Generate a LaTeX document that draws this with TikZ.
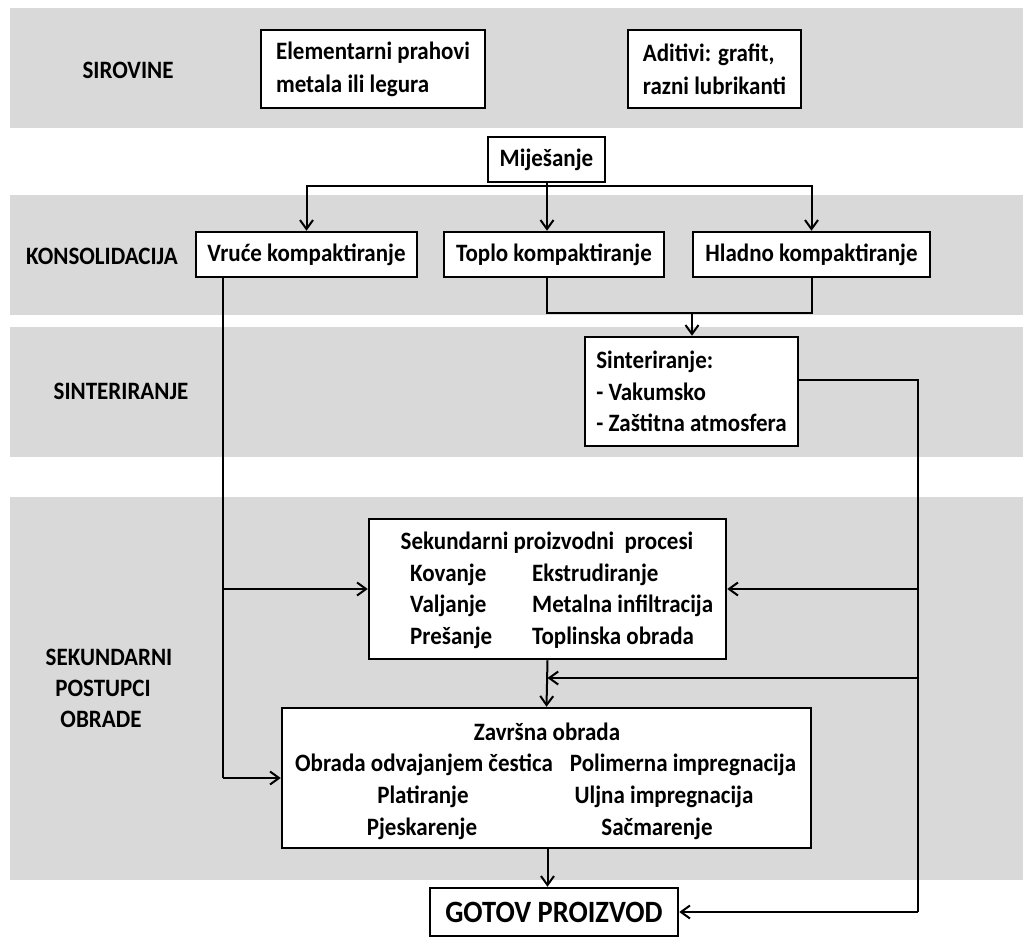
\documentclass[tikz,border=0pt]{standalone}
\usepackage{fontspec}
\setmainfont{Carlito}[FakeStretch=0.92]
\usetikzlibrary{arrows.meta}
\definecolor{band}{HTML}{D9D9D9}
\begin{document}
\begin{tikzpicture}[x=1pt,y=-1pt,
  every node/.style={font=\fontsize{25}{31.5}\selectfont\bfseries, inner sep=0pt},
  box/.style={draw, line width=2.5pt, fill=white, align=center},
  txt/.style={anchor=base},
  txtl/.style={anchor=base west},
  con/.style={line width=2pt},
  arr/.style={con, -{Straight Barb[length=9pt,width=13pt,line width=2pt]}}]
\useasboundingbox (0,0) rectangle (1023,937);
\fill[white] (0,0) rectangle (1023,937);
% bands
\fill[band] (10,8) rectangle (1023,128);
\fill[band] (10,195) rectangle (1023,315);
\fill[band] (10,327) rectangle (1023,457);
\fill[band] (10,497) rectangle (1023,880);
% band labels
\node[txt] (lsir) at (128,78) {SIROVINE};
\node[txt] (lkon) at (102,264) {KONSOLIDACIJA};
\node[txt] (lsin) at (121,399) {SINTERIRANJE};
\node[txt] (lsek1) at (109,665) {SEKUNDARNI};
\node[txt] (lsek2) at (103,696) {POSTUPCI};
\node[txt] (lsek3) at (101,727) {OBRADE};
% boxes
\node[box, minimum width=224, minimum height=78, align=left, font=\fontsize{25}{33}\selectfont\bfseries] (elem) at (373,69) {Elementarni prahovi\\metala ili legura};
\node[box, minimum width=173, minimum height=78, align=left, font=\fontsize{25}{33}\selectfont\bfseries] (adit) at (714.5,69) {Aditivi: grafit,\\razni lubrikanti};
\node[box, minimum width=117, minimum height=45] (mij) at (546.5,159.5) {Miješanje};
\node[box, minimum width=221, minimum height=45] (vruce) at (306.5,254.5) {Vruće kompaktiranje};
\node[box, minimum width=220, minimum height=45] (toplo) at (554,254.5) {Toplo kompaktiranje};
\node[box, minimum width=237, minimum height=45] (hladno) at (811.5,254.5) {Hladno kompaktiranje};
\node[box, minimum width=213, minimum height=109, align=left] (sint) at (691.5,391.5) {Sinteriranje:\\- Vakumsko\\- Zaštitna atmosfera};
\node[box, minimum width=357, minimum height=140] (sek) at (547.5,589) {};
\node[box, minimum width=529, minimum height=140] (zav) at (546.5,778) {};
\node[box, minimum width=248, minimum height=48, font=\fontsize{31}{36}\selectfont\bfseries] (got) at (554,912) {GOTOV PROIZVOD};
% secondary texts
\node[txt] (sekT) at (547,549) {Sekundarni proizvodni\ \ procesi};
\node[txtl] (sk1) at (410,581) {Kovanje};
\node[txtl] (sk2) at (410,612) {Valjanje};
\node[txtl] (sk3) at (410,644) {Prešanje};
\node[txtl] (se1) at (532,581) {Ekstrudiranje};
\node[txtl] (se2) at (532,612) {Metalna infiltracija};
\node[txtl] (se3) at (532,644) {Toplinska obrada};
% finishing texts
\node[txt] (zavT) at (547,740) {Završna obrada};
\node[txt] (zl1) at (424,771) {Obrada odvajanjem čestica};
\node[txt] (zl2) at (423,803) {Platiranje};
\node[txt] (zl3) at (422,835) {Pjeskarenje};
\node[txt] (zr1) at (683,771) {Polimerna impregnacija};
\node[txt] (zr2) at (664,803) {Uljna impregnacija};
\node[txt] (zr3) at (657,835) {Sačmarenje};
% coordinates
\coordinate (split) at (547,186);
\coordinate (merge) at (692,313);
\coordinate (lx) at (223,0);
\coordinate (rx) at (918,0);
\coordinate (sintout) at (798,380);
\coordinate (fb) at (547.5,678);
% connectors
\draw[con] (mij.south -| split) -- (split);
\draw[arr] (split) -| (vruce.north);
\draw[arr] (split) -| (hladno.north);
\draw[arr] (split) -- (split |- toplo.north);
\draw[con] (split |- toplo.south) |- (merge) -| (hladno.south);
\draw[arr] (merge) -- (merge |- sint.north);
\draw[con] (lx |- vruce.south) -- (lx |- zav.west);
\draw[arr] (lx |- sek.west) -- (sek.west);
\draw[arr] (lx |- zav.west) -- (zav.west);
\draw[con] (sintout) -| (rx |- got.east);
\draw[arr] (rx |- got.east) -- (got.east);
\draw[arr] (rx |- sek.east) -- (sek.east);
\draw[arr] (rx |- fb) -- (fb);
\draw[arr] (sek.south) -- (zav.north);
\draw[arr] (zav.south -| fb) -- (fb |- got.north);
\end{tikzpicture}
\end{document}
